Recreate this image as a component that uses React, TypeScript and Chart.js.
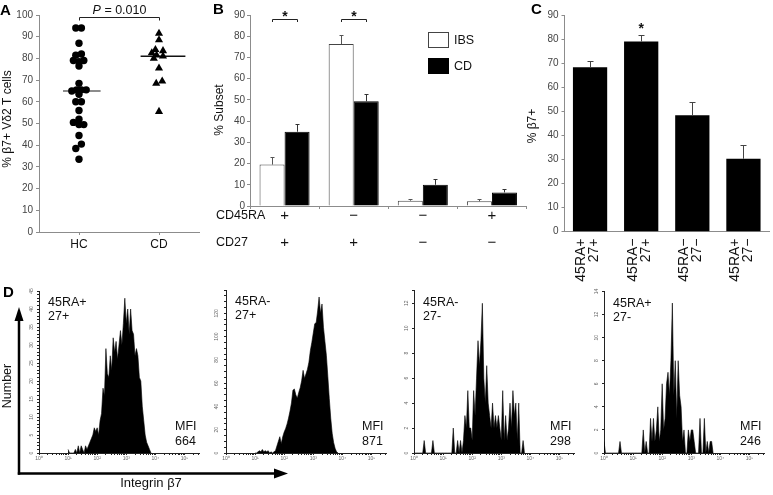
import React, { useEffect, useRef } from 'react';
import { Chart, registerables } from 'chart.js';

Chart.register(...registerables);

const W = 773;
const H = 495;
const FONT = 'Arial, "Liberation Sans", Helvetica, sans-serif';
Chart.defaults.font.family = FONT;
Chart.defaults.color = '#333';

/* ---------------- Panel A data ---------------- */
const A_CATEGORIES = ['HC', 'CD'];
const HC_VALUES = [94, 94, 87, 82, 81.5, 79, 78.5, 79, 76.5, 68.5, 65, 65.5, 65.5, 65.5, 63.5, 60, 60, 56, 52, 50.5, 49.5, 49.5, 44.5, 40.5, 38.5, 33.5];
const HC_JITTER = [-0.04, 0.03, 0, 0.03, -0.04, -0.07, 0, 0.06, 0, 0, -0.09, -0.03, 0.03, 0.09, 0, -0.04, 0.03, 0, 0, -0.07, 0, 0.06, 0, 0.03, -0.04, 0];
const CD_VALUES = [91.5, 88.5, 84, 83.5, 82.5, 81.5, 81, 80, 75.5, 69.5, 68.5, 55.5];
const CD_JITTER = [0, 0, -0.045, 0.05, -0.09, -0.03, 0.05, -0.065, 0, 0.04, -0.035, 0];
const A_MEDIANS = [65, 81];
const A_P_VALUE = '0.010';

/* ---------------- Panel B data ---------------- */
const B_CD45RA = ['+', '\u2212', '\u2212', '+'];
const B_CD27 = ['+', '+', '\u2212', '\u2212'];
const B_SERIES = ['IBS', 'CD'];
const B_IBS = [19.5, 76.3, 2.5, 2.2];
const B_IBS_ERR = [3.5, 4.4, 0.6, 0.9];
const B_CD = [35, 49.3, 10, 6.4];
const B_CD_ERR = [3.6, 3.7, 2.9, 1.4];
const B_SIGNIFICANT = [true, true, false, false];

/* ---------------- Panel C data ---------------- */
const C_CD45RA = ['45RA+', '45RA\u2212', '45RA\u2212', '45RA+'];
const C_CD27 = ['27+', '27+', '27\u2212', '27\u2212'];
const C_VALUES = [68.3, 79, 48.4, 30.3];
const C_ERR = [2.7, 2.6, 5.5, 5.6];
const C_SIGNIFICANT = [false, true, false, false];

/* ---------------- Panel D data ---------------- */
const D_DECADE_LABELS = ['10\u2070', '10\u00B9', '10\u00B2', '10\u00B3', '10\u2074', '10\u2075'];
const D_TITLES = [['45RA+', '27+'], ['45RA-', '27+'], ['45RA-', '27-'], ['45RA+', '27-']];
const D_MFI = ['664', '871', '298', '246'];
const D_BIN_WIDTH = 0.05; // decades per channel
const D_STARTS = [1.0, 1.0, 0.0, 0.0]; // log10 of first channel
const D1_COUNTS = [1, 0, 0, 0, 0, 1, 0, 2, 0, 2, 1, 0, 2, 1, 2, 3, 4, 5, 7, 6, 7, 5, 9, 11, 18, 16, 29, 22, 21, 27, 23, 32, 28, 31, 26, 30, 34, 30, 36, 43, 36, 40, 33, 40, 34, 33, 27, 29, 27, 21, 20, 13, 9, 5, 3, 2, 1, 0];
const D2_COUNTS = [0, 0, 1, 2, 1, 3, 1, 2, 1, 2, 0, 1, 0, 1, 2, 6, 10, 14, 8, 14, 18, 21, 25, 30, 36, 43, 54, 55, 50, 47, 52, 56, 62, 71, 64, 68, 72, 78, 88, 95, 103, 111, 112, 122, 134, 120, 128, 108, 96, 84, 66, 47, 30, 17, 9, 4, 1, 0];
const D3_COUNTS = [0, 0, 0, 0, 0, 0, 0, 1, 0, 0, 0, 0, 0, 1, 0, 0, 0, 0, 0, 0, 0, 0, 0, 0, 0, 0, 0, 2, 0, 0, 1, 0, 1, 0, 1, 3, 2, 5, 2, 2, 1, 5, 3, 6, 9, 7, 9, 12, 6, 4, 7, 4, 3, 2, 4, 2, 3, 2, 3, 2, 1, 5, 1, 3, 1, 2, 4, 2, 5, 3, 4, 1, 4, 0, 0, 1, 0];
const D4_COUNTS = [1, 0, 0, 0, 0, 0, 0, 0, 0, 0, 0, 1, 0, 0, 0, 0, 0, 0, 0, 0, 0, 0, 0, 0, 0, 0, 0, 2, 0, 1, 0, 0, 3, 1, 3, 1, 2, 4, 1, 2, 6, 2, 3, 6, 7, 5, 8, 13, 5, 8, 3, 8, 5, 4, 1, 2, 0, 0, 2, 1, 2, 2, 1, 0, 0, 0, 3, 0, 0, 3, 0, 1, 0, 1, 1, 0];
const D_COUNTS = [D1_COUNTS, D2_COUNTS, D3_COUNTS, D4_COUNTS];
const D_Y_MAX = [45, 140, 13, 14];
const D_Y_STEP = [1, 5, 2, 2];
const D_LABEL_EVERY = [5, 20, 2, 2];
const D_LABEL_MAX = [45, 120, 12, 14];
const D_X_MAX_EXP = 5.5;

/* ---------------- layout (page pixels) ---------------- */
const D_LEFTS = [39, 226, 414, 604];
const D_TOPS = [291, 290, 290.8, 291.5];
const D_BOTTOM = 453;
const D_WIDTH = 160;

const AXIS = '#8c8c8c';
const TICK_TEXT = '#444';

const BASE = {
  responsive: false,
  maintainAspectRatio: false,
  animation: false,
  devicePixelRatio: 1,
  events: [],
  plugins: { legend: { display: false }, tooltip: { enabled: false } },
};

function areaPadding(left: number, top: number, right: number, bottom: number, yw: number, xh: number) {
  return { left: left - yw, top, right: W - right, bottom: H - bottom - xh };
}

function txt(ctx: any, s: string, x: number, y: number, o: any = {}) {
  ctx.save();
  ctx.font = `${o.italic ? 'italic ' : ''}${o.bold ? 'bold ' : ''}${o.size || 12}px ${FONT}`;
  ctx.fillStyle = o.color || '#111';
  ctx.textAlign = o.align || 'left';
  ctx.textBaseline = o.baseline || 'middle';
  ctx.translate(x, y);
  if (o.rotate) ctx.rotate(o.rotate);
  ctx.fillText(s, 0, 0);
  ctx.restore();
}

function errBar(ctx: any, x: number, y0: number, y1: number, half: number, color: string) {
  const xx = Math.round(x) + 0.5;
  const yy = Math.round(y1) + 0.5;
  ctx.save();
  ctx.strokeStyle = color;
  ctx.lineWidth = 1;
  ctx.beginPath();
  ctx.moveTo(xx, y0);
  ctx.lineTo(xx, yy);
  ctx.moveTo(xx - half, yy);
  ctx.lineTo(xx + half, yy);
  ctx.stroke();
  ctx.restore();
}

function axisStyle(tl: number, color = AXIS) {
  return {
    grid: { drawOnChartArea: false, drawTicks: true, tickLength: tl, color, tickColor: color },
    border: { display: true, color, width: 1 },
  };
}

/* ---------------- Panel A ---------------- */
function configA() {
  const hc = HC_VALUES.map((v, i) => ({ x: 1 + HC_JITTER[i], y: v }));
  const cd = CD_VALUES.map((v, i) => ({ x: 2 + CD_JITTER[i], y: v }));
  const spans = [[-0.2, 0.27], [-0.23, 0.33]];
  const medianSets = A_MEDIANS.map((m, i) => ({
    type: 'line',
    data: [{ x: i + 1 + spans[i][0], y: m }, { x: i + 1 + spans[i][1], y: m }],
    borderColor: i === 0 ? '#666' : '#111',
    borderWidth: 1.5,
    pointRadius: 0,
  }));
  return {
    type: 'scatter',
    data: {
      datasets: [
        { data: hc, pointStyle: 'circle', pointRadius: 3.7, backgroundColor: '#000', borderColor: '#000', borderWidth: 0 },
        { data: cd, pointStyle: 'triangle', pointRadius: 4.7, backgroundColor: '#000', borderColor: '#000', borderWidth: 0 },
        ...medianSets,
      ],
    },
    options: {
      ...BASE,
      layout: { padding: areaPadding(39, 15, 199, 232, 40, 30) },
      scales: {
        x: {
          type: 'linear', min: 0.5, max: 2.5,
          afterBuildTicks: (s: any) => { s.ticks = A_CATEGORIES.map((_, i) => ({ value: i + 1 })); },
          afterFit: (s: any) => { s.height = 30; },
          ticks: { autoSkip: false, maxRotation: 0, padding: 2, font: { size: 12 }, color: '#111', callback: (v: any) => A_CATEGORIES[Math.round(v) - 1] ?? '' },
          ...axisStyle(3),
        },
        y: {
          min: 0, max: 100,
          afterFit: (s: any) => { s.width = 40; },
          ticks: { stepSize: 10, padding: 3, font: { size: 10 }, color: TICK_TEXT },
          ...axisStyle(3),
        },
      },
    },
    plugins: [{
      id: 'annA',
      afterDraw(chart: any) {
        const { ctx } = chart;
        const x = chart.scales.x;
        const y = chart.scales.y;
        txt(ctx, 'A', 0, 15, { size: 15, bold: true, baseline: 'alphabetic', color: '#000' });
        txt(ctx, '% \u03B27+ V\u03B42 T cells', 7.5, 119, { size: 12, align: 'center', rotate: -Math.PI / 2 });
        const x1 = Math.round(x.getPixelForValue(1)) + 0.5;
        const x2 = Math.round(x.getPixelForValue(2)) + 0.5;
        const yb = Math.round(y.getPixelForValue(98.9)) + 0.5;
        ctx.save();
        ctx.strokeStyle = '#222';
        ctx.lineWidth = 1;
        ctx.beginPath();
        ctx.moveTo(x1, yb + 3);
        ctx.lineTo(x1, yb);
        ctx.lineTo(x2, yb);
        ctx.lineTo(x2, yb + 3);
        ctx.stroke();
        ctx.font = `italic 12.5px ${FONT}`;
        const wp = ctx.measureText('P').width;
        ctx.font = `12.5px ${FONT}`;
        const wr = ctx.measureText(` = ${A_P_VALUE}`).width;
        ctx.restore();
        const sx = (x1 + x2) / 2 - (wp + wr) / 2;
        txt(ctx, 'P', sx, yb - 3.5, { size: 12.5, italic: true, baseline: 'alphabetic' });
        txt(ctx, ` = ${A_P_VALUE}`, sx + wp, yb - 3.5, { size: 12.5, baseline: 'alphabetic' });
      },
    }],
  };
}

/* ---------------- Panel B ---------------- */
function configB() {
  const errs = [B_IBS_ERR, B_CD_ERR];
  const vals = [B_IBS, B_CD];
  return {
    type: 'bar',
    data: {
      labels: B_CD45RA.map((s, i) => `${s}/${B_CD27[i]}`),
      datasets: [
        { label: B_SERIES[0], data: B_IBS, backgroundColor: '#fff', borderColor: '#444', borderWidth: 1, borderSkipped: 'bottom' },
        { label: B_SERIES[1], data: B_CD, backgroundColor: '#000', borderColor: '#000', borderWidth: 1, borderSkipped: 'bottom' },
      ],
    },
    options: {
      ...BASE,
      categoryPercentage: 0.724,
      barPercentage: 1,
      layout: { padding: areaPadding(250, 15, 526.5, 206, 30, 20) },
      scales: {
        x: {
          afterFit: (s: any) => { s.height = 20; },
          ticks: { display: false },
          ...axisStyle(3),
          grid: { drawOnChartArea: false, drawTicks: true, tickLength: 3, color: AXIS, tickColor: AXIS, offset: true },
        },
        y: {
          min: 0, max: 90,
          afterFit: (s: any) => { s.width = 30; },
          ticks: { stepSize: 10, padding: 2, font: { size: 10 }, color: TICK_TEXT },
          ...axisStyle(3),
        },
      },
    },
    plugins: [{
      id: 'annB',
      afterDraw(chart: any) {
        const { ctx } = chart;
        const x = chart.scales.x;
        const y = chart.scales.y;
        txt(ctx, 'B', 213, 14, { size: 15, bold: true, baseline: 'alphabetic', color: '#000' });
        txt(ctx, '% Subset', 220, 110, { size: 12, align: 'center', rotate: -Math.PI / 2 });
        [0, 1].forEach((d) => {
          const meta = chart.getDatasetMeta(d);
          meta.data.forEach((bar: any, i: number) => {
            errBar(ctx, bar.x, y.getPixelForValue(vals[d][i]), y.getPixelForValue(vals[d][i] + errs[d][i]), 2, d === 0 ? '#555' : '#333');
          });
        });
        const m0 = chart.getDatasetMeta(0);
        const m1 = chart.getDatasetMeta(1);
        B_SIGNIFICANT.forEach((sig, i) => {
          if (!sig) return;
          const xa = Math.round(m0.data[i].x) + 0.5;
          const xb = Math.round(m1.data[i].x) + 0.5;
          const yl = Math.round(y.getPixelForValue(88.1)) + 0.5;
          ctx.save();
          ctx.strokeStyle = '#222';
          ctx.lineWidth = 1;
          ctx.beginPath();
          ctx.moveTo(xa, yl + 2.5);
          ctx.lineTo(xa, yl);
          ctx.lineTo(xb, yl);
          ctx.lineTo(xb, yl + 2.5);
          ctx.stroke();
          ctx.restore();
          txt(ctx, '*', (xa + xb) / 2, yl + 1.5, { size: 14, bold: true, align: 'center', baseline: 'alphabetic' });
        });
        ctx.save();
        ctx.fillStyle = '#fff';
        ctx.strokeStyle = '#444';
        ctx.lineWidth = 1;
        ctx.fillRect(428.5, 32.5, 20, 15);
        ctx.strokeRect(428.5, 32.5, 20, 15);
        ctx.fillStyle = '#000';
        ctx.fillRect(428, 58, 21, 16);
        ctx.restore();
        txt(ctx, B_SERIES[0], 454, 40.5, { size: 12.5 });
        txt(ctx, B_SERIES[1], 454, 66.5, { size: 12.5 });
        txt(ctx, 'CD45RA', 216, 216, { size: 12.5 });
        txt(ctx, 'CD27', 216, 243, { size: 12.5 });
        B_CD45RA.forEach((s, i) => {
          const px = x.getPixelForValue(i);
          txt(ctx, s, px, 216, { size: 15, align: 'center' });
          txt(ctx, B_CD27[i], px, 243, { size: 15, align: 'center' });
        });
      },
    }],
  };
}

/* ---------------- Panel C ---------------- */
function configC() {
  return {
    type: 'bar',
    data: {
      labels: C_CD45RA.map((s, i) => `${s} ${C_CD27[i]}`),
      datasets: [{ data: C_VALUES, backgroundColor: '#000', borderColor: '#000', borderWidth: 0 }],
    },
    options: {
      ...BASE,
      categoryPercentage: 0.67,
      barPercentage: 1,
      layout: { padding: areaPadding(564.5, 15, 769, 231.7, 30, 20) },
      scales: {
        x: {
          afterFit: (s: any) => { s.height = 20; },
          ticks: { display: false },
          grid: { drawOnChartArea: false, drawTicks: false, color: AXIS, offset: true },
          border: { display: true, color: AXIS, width: 1 },
        },
        y: {
          min: 0, max: 90,
          afterFit: (s: any) => { s.width = 30; },
          ticks: { stepSize: 10, padding: 3, font: { size: 10 }, color: TICK_TEXT },
          ...axisStyle(3),
        },
      },
    },
    plugins: [{
      id: 'annC',
      afterDraw(chart: any) {
        const { ctx } = chart;
        const x = chart.scales.x;
        const y = chart.scales.y;
        txt(ctx, 'C', 531, 14, { size: 15, bold: true, baseline: 'alphabetic', color: '#000' });
        txt(ctx, '% \u03B27+', 533, 126, { size: 12, align: 'center', rotate: -Math.PI / 2 });
        const meta = chart.getDatasetMeta(0);
        meta.data.forEach((bar: any, i: number) => {
          const top = y.getPixelForValue(C_VALUES[i] + C_ERR[i]);
          errBar(ctx, bar.x, y.getPixelForValue(C_VALUES[i]), top, 3, '#444');
          if (C_SIGNIFICANT[i]) txt(ctx, '*', bar.x, top - 2, { size: 14, bold: true, align: 'center', baseline: 'alphabetic' });
        });
        C_CD45RA.forEach((s, i) => {
          const px = x.getPixelForValue(i);
          txt(ctx, s, px - 8.5, 238.5, { size: 14, align: 'right', rotate: -Math.PI / 2 });
          txt(ctx, C_CD27[i], px + 4.5, 238.5, { size: 14, align: 'right', rotate: -Math.PI / 2 });
        });
      },
    }],
  };
}

/* ---------------- Panel D ---------------- */
function configD(k: number) {
  const counts = D_COUNTS[k];
  const data = counts.map((c, i) => ({ x: Math.pow(10, D_STARTS[k] + i * D_BIN_WIDTH), y: c }));
  const left = D_LEFTS[k];
  return {
    type: 'line',
    data: {
      datasets: [{ data, borderColor: '#000', borderWidth: 0.6, backgroundColor: '#000', fill: 'origin', pointRadius: 0, tension: 0 }],
    },
    options: {
      ...BASE,
      layout: { padding: areaPadding(left, D_TOPS[k], left + D_WIDTH, D_BOTTOM, 20, 12) },
      scales: {
        x: {
          type: 'logarithmic', min: 1, max: Math.pow(10, D_X_MAX_EXP),
          afterBuildTicks: (s: any) => {
            const t: any[] = [];
            D_DECADE_LABELS.forEach((_, d) => {
              for (let m = 1; m <= 9; m++) {
                const v = m * Math.pow(10, d);
                if (v <= Math.pow(10, D_X_MAX_EXP)) t.push({ value: v, major: m === 1 });
              }
            });
            s.ticks = t;
          },
          afterFit: (s: any) => { s.height = 12; },
          ticks: {
            autoSkip: false, maxRotation: 0, minRotation: 0, padding: 1, font: { size: 5 }, color: '#666',
            callback: (v: any, i: number, ticks: any[]) => (ticks[i] && ticks[i].major ? D_DECADE_LABELS[Math.round(Math.log10(v))] : ''),
          },
          ...axisStyle(2, '#222'),
        },
        y: {
          min: 0, max: D_Y_MAX[k],
          afterFit: (s: any) => { s.width = 20; },
          ticks: {
            stepSize: D_Y_STEP[k], autoSkip: false, minRotation: 90, maxRotation: 90, crossAlign: 'center', padding: 3,
            font: { size: 5 }, color: '#666',
            callback: (v: any) => (v % D_LABEL_EVERY[k] === 0 && v <= D_LABEL_MAX[k] ? String(v) : ''),
          },
          ...axisStyle(2, '#222'),
        },
      },
    },
    plugins: [{
      id: `annD${k}`,
      afterDraw(chart: any) {
        const { ctx } = chart;
        const a = chart.chartArea;
        txt(ctx, D_TITLES[k][0], a.left + 9, a.top + 12, { size: 12.5 });
        txt(ctx, D_TITLES[k][1], a.left + 9, a.top + 26, { size: 12.5 });
        txt(ctx, 'MFI', a.left + 136, a.bottom - 26, { size: 12.5 });
        txt(ctx, D_MFI[k], a.left + 136, a.bottom - 11, { size: 12.5 });
        if (k === 0) {
          txt(ctx, 'D', 3, 297, { size: 15, bold: true, baseline: 'alphabetic', color: '#000' });
          ctx.save();
          ctx.strokeStyle = '#000';
          ctx.fillStyle = '#000';
          ctx.lineWidth = 2.5;
          ctx.beginPath();
          ctx.moveTo(19, 474.7);
          ctx.lineTo(19, 318);
          ctx.stroke();
          ctx.beginPath();
          ctx.moveTo(19, 307);
          ctx.lineTo(14.5, 321);
          ctx.lineTo(23.5, 321);
          ctx.closePath();
          ctx.fill();
          ctx.beginPath();
          ctx.moveTo(17.8, 473.5);
          ctx.lineTo(276, 473.5);
          ctx.stroke();
          ctx.beginPath();
          ctx.moveTo(288, 473.5);
          ctx.lineTo(274, 468.5);
          ctx.lineTo(274, 478.5);
          ctx.closePath();
          ctx.fill();
          ctx.restore();
          txt(ctx, 'Number', 7.5, 386, { size: 12.5, align: 'center', rotate: -Math.PI / 2 });
          txt(ctx, 'Integrin \u03B27', 151, 483, { size: 13, align: 'center' });
        }
      },
    }],
  };
}

export default function App() {
  const canvases = useRef<(HTMLCanvasElement | null)[]>([]);
  useEffect(() => {
    const configs: any[] = [configA(), configB(), configC(), ...D_COUNTS.map((_, i) => configD(i))];
    const charts = configs.map((cfg, i) => new Chart(canvases.current[i] as HTMLCanvasElement, cfg));
    return () => charts.forEach((c) => c.destroy());
  }, []);
  return (
    <div style={{ position: 'fixed', left: 0, top: 0, width: W, height: H, background: '#fff', overflow: 'hidden' }}>
      {Array.from({ length: 7 }).map((_, i) => (
        <canvas
          key={i}
          ref={(el) => { canvases.current[i] = el; }}
          width={W}
          height={H}
          style={{ position: 'absolute', left: 0, top: 0, width: W, height: H }}
        />
      ))}
    </div>
  );
}
